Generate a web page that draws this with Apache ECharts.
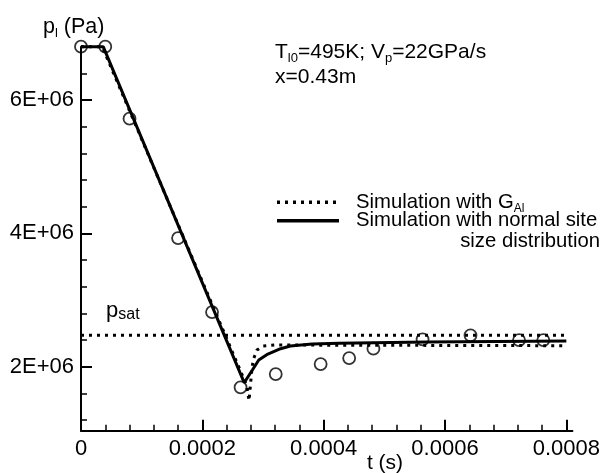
<!DOCTYPE html>
<html>
<head>
<meta charset="utf-8">
<script src="https://cdn.jsdelivr.net/npm/echarts@6/dist/echarts.min.js"></script>
<style>html,body{margin:0;padding:0;background:#fff;}#c{width:603px;height:473px;}</style>
</head>
<body>
<div id="c"></div>
<script>
// Experimental points (circles)
const tExp = [0, 0.00004, 0.00008, 0.00016, 0.000216, 0.000263, 0.000321, 0.000395, 0.000442, 0.000482, 0.000563, 0.000642, 0.000722, 0.000762];
const pExp = [6.8e6, 6.8e6, 5.72e6, 3.93e6, 2.82e6, 1.69e6, 1.89e6, 2.04e6, 2.13e6, 2.27e6, 2.41e6, 2.47e6, 2.40e6, 2.40e6];
// Simulation with normal site size distribution (solid)
const tNormal = [0, 0.0000366, 0.000269, 0.0002825, 0.000293, 0.000308, 0.000329, 0.000345, 0.000381, 0.000425, 0.00057, 0.0008];
const pNormal = [6.8e6, 6.8e6, 1.76e6, 1.95e6, 2.10e6, 2.19e6, 2.27e6, 2.31e6, 2.34e6, 2.35e6, 2.37e6, 2.385e6];
// Simulation with G_Al (dotted)
const tGal = [0, 0.000035, 0.000273, 0.000277, 0.000282, 0.000285, 0.00029, 0.0003, 0.00032, 0.0008];
const pGal = [6.8e6, 6.8e6, 1.72e6, 1.49e6, 2.0e6, 2.13e6, 2.25e6, 2.31e6, 2.325e6, 2.315e6];
// Saturation pressure line
const tSat = [0, 0.0008];
const pSat = [2.47e6, 2.47e6];
// Ticks
const xMajor = [0, 0.0002, 0.0004, 0.0006, 0.0008];
const xMinor = [0.00004, 0.00008, 0.00012, 0.00016, 0.00024, 0.00028, 0.00032, 0.00036, 0.00044, 0.00048, 0.00052, 0.00056, 0.00064, 0.00068, 0.00072, 0.00076];
const yMajor = [2e6, 4e6, 6e6];
const yMinor = [1.2e6, 1.6e6, 2.4e6, 2.8e6, 3.2e6, 3.6e6, 4.4e6, 4.8e6, 5.2e6, 5.6e6, 6.4e6];
const xLabels = ['0', '0.0002', '0.0004', '0.0006', '0.0008'];
const yLabels = ['2E+06', '4E+06', '6E+06'];
const legendNames = ['Simulation with G', 'Simulation with normal site', 'size distribution'];

const FF = 'Liberation Sans, Arial, sans-serif';
const zip = (a, b) => a.map((v, i) => [v, b[i]]);
const chart = echarts.init(document.getElementById('c'), null, {renderer: 'canvas'});
const XMIN = 0, XMAX = 0.00081, YMIN = 1.04e6, YMAX = 6.8e6;
const axisCommon = {type: 'value', splitLine: {show: false}};
const DOT = [3, 5];
const LF = 20.3;
const option = {
  animation: false,
  backgroundColor: '#fff',
  grid: {left: 81, top: 46.7, width: 494, height: 384},
  xAxis: [
    Object.assign({}, axisCommon, {
      min: XMIN, max: XMAX, position: 'bottom',
      axisLine: {show: true, lineStyle: {color: '#000', width: 2}},
      axisTick: {show: true, inside: true, length: 11, customValues: xMajor, lineStyle: {color: '#000', width: 2}},
      axisLabel: {show: true, customValues: xMajor, color: '#000', fontSize: 22, fontFamily: FF, margin: 7,
        formatter: v => xLabels[xMajor.findIndex(m => Math.abs(m - v) < 1e-9)] || ''}
    }),
    Object.assign({}, axisCommon, {
      min: XMIN, max: XMAX, position: 'bottom',
      axisLine: {show: false},
      axisTick: {show: true, inside: true, length: 6, customValues: xMinor, lineStyle: {color: '#000', width: 1.5}},
      axisLabel: {show: false}
    })
  ],
  yAxis: [
    Object.assign({}, axisCommon, {
      min: YMIN, max: YMAX, position: 'left',
      axisLine: {show: true, lineStyle: {color: '#000', width: 2}},
      axisTick: {show: true, inside: true, length: 11, customValues: yMajor, lineStyle: {color: '#000', width: 2}},
      axisLabel: {show: true, customValues: yMajor, color: '#000', fontSize: 22, fontFamily: FF, margin: 7,
        formatter: v => yLabels[yMajor.findIndex(m => Math.abs(m - v) < 1)] || ''}
    }),
    Object.assign({}, axisCommon, {
      min: YMIN, max: YMAX, position: 'left',
      axisLine: {show: false},
      axisTick: {show: true, inside: true, length: 6, customValues: yMinor, lineStyle: {color: '#000', width: 1.5}},
      axisLabel: {show: false}
    })
  ],
  graphic: [
    {type: 'text', x: 275, y: 52, style: {
      text: '{m|T}{s|l0}{m|=495K; V}{s|p}{m|=22GPa/s}', verticalAlign: 'middle',
      rich: {
        m: {fontSize: 21, fontFamily: FF, fill: '#000', lineHeight: 25},
        s: {fontSize: 13, fontFamily: FF, fill: '#000', lineHeight: 13, verticalAlign: 'bottom'}
      }}},
    {type: 'text', x: 275, y: 77, style: {text: 'x=0.43m', fontSize: 21, fontFamily: FF, fill: '#000', verticalAlign: 'middle'}},
    {type: 'text', x: 43, y: 27, style: {
      text: '{m|p}{s|l}{m| (Pa)}', verticalAlign: 'middle',
      rich: {
        m: {fontSize: 21.5, fontFamily: FF, fill: '#000', lineHeight: 25},
        s: {fontSize: 13, fontFamily: FF, fill: '#000', lineHeight: 13, verticalAlign: 'bottom'}
      }}},
    {type: 'text', x: 106, y: 311, style: {
      text: '{m|p}{s|sat}', verticalAlign: 'middle',
      rich: {
        m: {fontSize: 22, fontFamily: FF, fill: '#000', lineHeight: 24},
        s: {fontSize: 16, fontFamily: FF, fill: '#000', lineHeight: 16, verticalAlign: 'bottom'}
      }}},
    // legend
    {type: 'line', shape: {x1: 277, y1: 202.3, x2: 339, y2: 202.3}, style: {stroke: '#000', lineWidth: 3.5, lineDash: DOT}},
    {type: 'line', shape: {x1: 277, y1: 220.7, x2: 339, y2: 220.7}, style: {stroke: '#000', lineWidth: 3.5}},
    {type: 'text', x: 356, y: 202.5, style: {
      text: '{m|' + legendNames[0] + '}{s|Al}', verticalAlign: 'middle',
      rich: {
        m: {fontSize: LF, fontFamily: FF, fill: '#000', lineHeight: 24},
        s: {fontSize: 12, fontFamily: FF, fill: '#000', lineHeight: 12, verticalAlign: 'bottom'}
      }}},
    {type: 'text', x: 356, y: 220, style: {text: legendNames[1], fontSize: LF, fontFamily: FF, fill: '#000', verticalAlign: 'middle'}},
    {type: 'text', x: 600, y: 241, style: {text: legendNames[2], fontSize: LF, fontFamily: FF, fill: '#000', align: 'right', verticalAlign: 'middle'}},
    {type: 'text', x: 385, y: 463, style: {text: 't (s)', fontSize: 21, fontFamily: FF, fill: '#000', align: 'center', verticalAlign: 'middle'}}
  ],
  series: [
    {name: 'sat', type: 'line', data: zip(tSat, pSat), showSymbol: false, symbol: 'none', clip: false,
      lineStyle: {color: '#000', width: 3, type: DOT}, silent: true},
    {name: 'gal', type: 'line', data: zip(tGal, pGal), showSymbol: false, symbol: 'none', clip: false,
      lineStyle: {color: '#000', width: 3, type: DOT}},
    {name: 'normal', type: 'line', data: zip(tNormal, pNormal), showSymbol: false, symbol: 'none', clip: false,
      lineStyle: {color: '#000', width: 3}},
    {name: 'exp', type: 'scatter', data: zip(tExp, pExp), symbol: 'circle', symbolSize: 12, clip: false,
      itemStyle: {color: 'rgba(0,0,0,0)', borderColor: '#000', borderWidth: 1.8}, z: 5}
  ]
};
chart.setOption(option);
</script>
</body>
</html>
